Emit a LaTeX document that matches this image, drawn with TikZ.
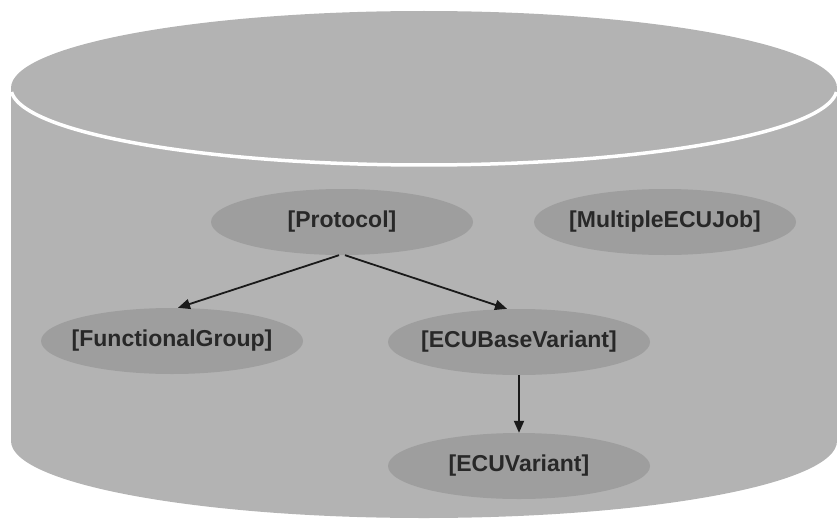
\documentclass[tikz,border=0pt]{standalone}
\usepackage{fontspec}
\setmainfont{Liberation Sans}
\usetikzlibrary{arrows.meta}
\definecolor{drum}{RGB}{179,179,179}
\definecolor{entity}{RGB}{158,158,158}
\definecolor{label}{RGB}{40,40,40}
\definecolor{link}{RGB}{26,26,26}
\begin{document}
\begin{tikzpicture}[x=1pt,y=-1pt,
  entitynode/.style={rectangle, minimum width=262pt, minimum height=66pt,
    inner sep=0pt, text=label, font=\fontsize{23}{27}\selectfont\bfseries,
    path picture={\fill[entity] (path picture bounding box.center)
      ellipse [x radius=131pt, y radius=33pt];}},
  linkarrow/.style={draw=link, line width=1.8pt, -{Triangle[length=12pt,width=10pt]}}]
\useasboundingbox (0,0) rectangle (837,519);
% database drum: body and bottom rim
\fill[drum] (11,88) rectangle (837,441);
\fill[drum] (424,441) ellipse [x radius=413, y radius=77];
% lid with white front rim
\fill[drum] (424,88) ellipse [x radius=413, y radius=77];
\draw[white, line width=3.5pt] plot[smooth, domain=183:357, samples=120]
  ({424+413*cos(\x)}, {88-77*sin(\x)});
% entities
\node[entitynode] (prot) at (342,222) {[Protocol]};
\node[entitynode] (mej)  at (665,222) {[MultipleECUJob]};
\node[entitynode] (fg)   at (172,341) {[FunctionalGroup]};
\node[entitynode] (ebv)  at (519,342) {[ECUBaseVariant]};
\node[entitynode] (ev)   at (519,466) {[ECUVariant]};
% relations
\draw[linkarrow] ([xshift=-3pt]prot.south) -- ([xshift=6pt]fg.north);
\draw[linkarrow] ([xshift=3pt]prot.south) -- ([xshift=-12pt]ebv.north);
\draw[linkarrow] (ebv.south) -- (ev.north);
\end{tikzpicture}
\end{document}
